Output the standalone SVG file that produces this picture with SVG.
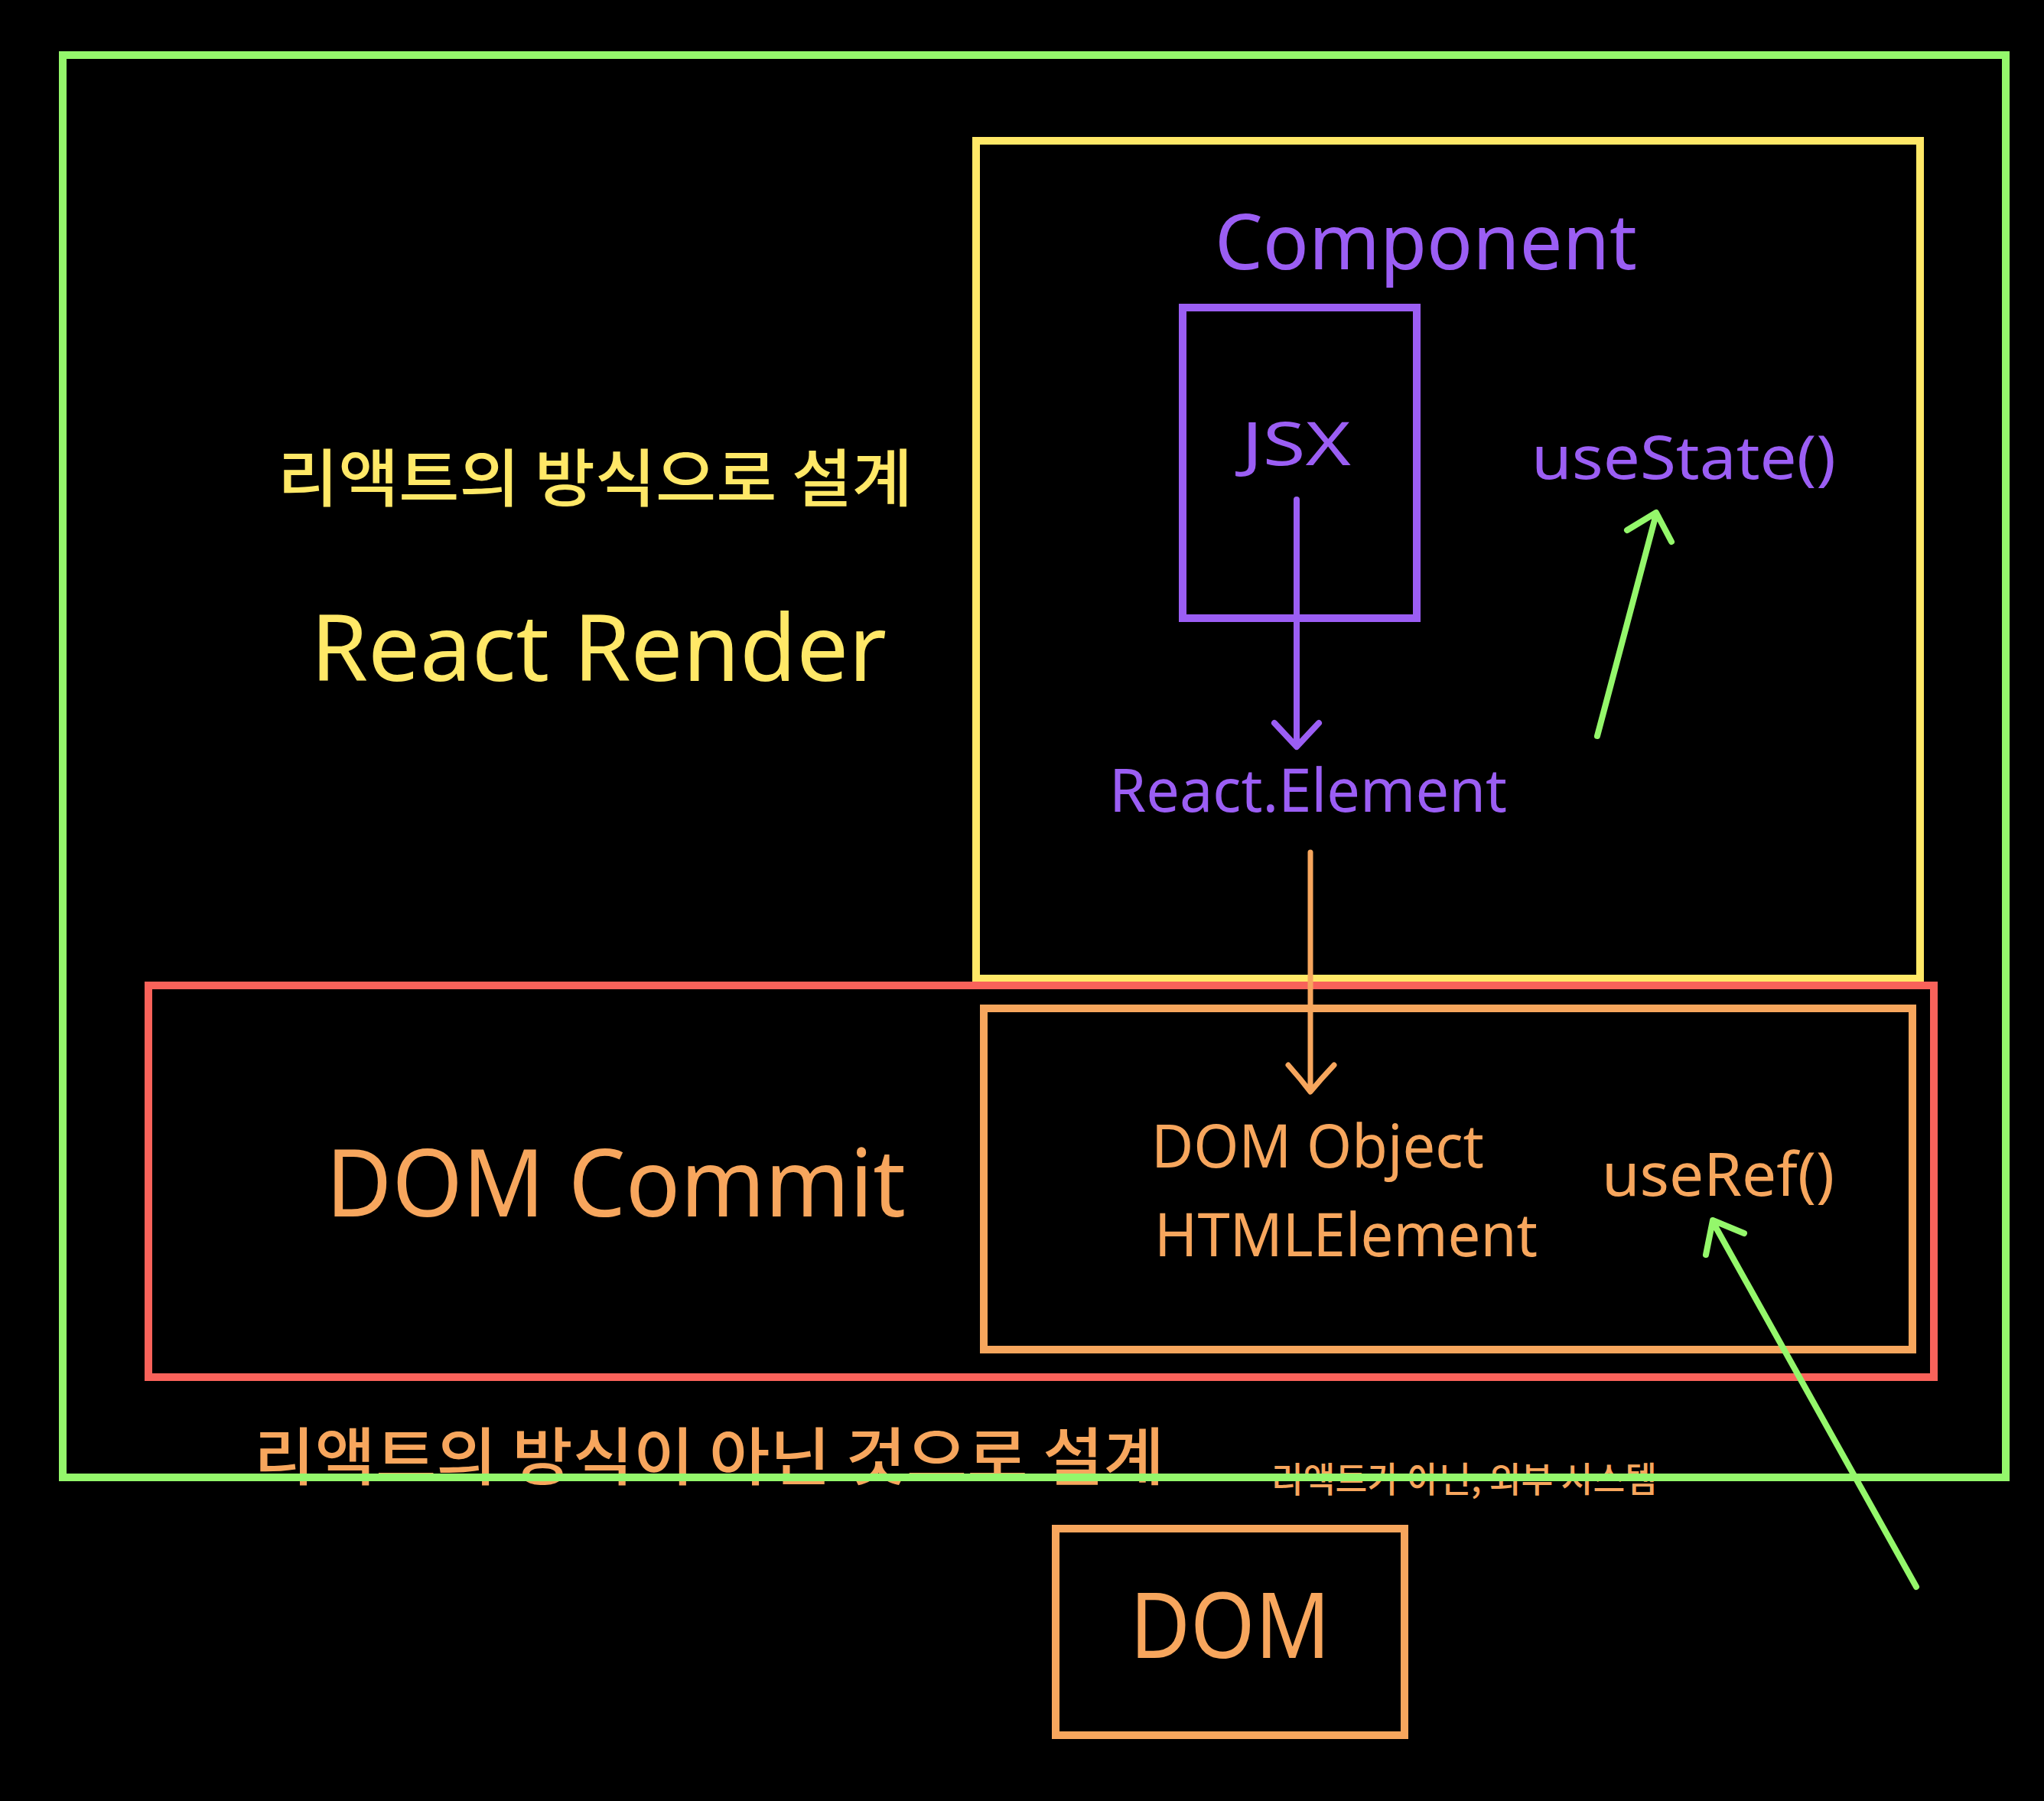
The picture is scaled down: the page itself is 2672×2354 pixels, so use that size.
<svg xmlns="http://www.w3.org/2000/svg" width="2672" height="2354" viewBox="0 0 2672 2354">
<style>
.box{fill:none;stroke-width:10}
.t{font-family:"Noto Sans","Open Sans",sans-serif}
.k{font-family:"Noto Sans CJK KR","Noto Sans",sans-serif;font-weight:500}
.ln{fill:none;stroke-linecap:round;stroke-linejoin:round}
.g{stroke:#94f76b}
.y{stroke:#ffe867}
.r{stroke:#f9625a}
.o{stroke:#f7a65d}
.p{stroke:#9b5ef4}
</style>
<rect width="2672" height="2354" fill="#000"/>
<g id="react-render">
  <rect class="box y" x="1276" y="184" width="1234" height="1095"/>
  <text class="k" x="363" y="655" font-size="82" fill="#ffe867" textLength="830" lengthAdjust="spacingAndGlyphs">리액트의 방식으로 설계</text>
  <text class="t" x="406" y="890" font-size="120" fill="#ffe867" textLength="753" lengthAdjust="spacingAndGlyphs">React Render</text>
</g>
<g id="component">
  <text class="t" x="1588" y="352" font-size="100" fill="#9b5ef4" textLength="552" lengthAdjust="spacingAndGlyphs">Component</text>
</g>
<g id="jsx">
  <rect class="box p" x="1546" y="402" width="306" height="406"/>
  <text class="t" x="1623" y="608" font-size="78" fill="#9b5ef4" textLength="143" lengthAdjust="spacingAndGlyphs">JSX</text>
</g>
<g id="usestate">
  <text class="t" x="2002" y="626" font-size="78" fill="#9b5ef4" textLength="398" lengthAdjust="spacingAndGlyphs">useState()</text>
</g>
<g id="react-element">
  <text class="t" x="1450" y="1061" font-size="78" fill="#9b5ef4" textLength="520" lengthAdjust="spacingAndGlyphs">React.Element</text>
</g>
<g id="dom-commit">
  <rect class="box r" x="194" y="1288" width="2334" height="512"/>
  <text class="t" x="426" y="1590" font-size="122" fill="#f7a65d" textLength="758" lengthAdjust="spacingAndGlyphs">DOM Commit</text>
</g>
<g id="dom-object">
  <rect class="box o" x="1286" y="1318" width="1214" height="446"/>
  <text class="t" x="1505" y="1526" font-size="78" fill="#f7a65d" textLength="435" lengthAdjust="spacingAndGlyphs">DOM Object</text>
  <text class="t" x="1509" y="1642" font-size="78" fill="#f7a65d" textLength="501" lengthAdjust="spacingAndGlyphs">HTMLElement</text>
</g>
<g id="useref">
  <text class="t" x="2094" y="1563" font-size="78" fill="#f7a65d" textLength="304" lengthAdjust="spacingAndGlyphs">useRef()</text>
</g>
<g id="not-react-label">
  <text class="k" x="332" y="1934" font-size="82" fill="#f7a65d" textLength="1190" lengthAdjust="spacingAndGlyphs">리액트의 방식이 아닌 것으로 설계</text>
  <text class="k" x="1662" y="1950" font-size="46" fill="#f7a65d" textLength="504" lengthAdjust="spacingAndGlyphs">리액트가 아닌, 외부 시스템</text>
</g>
<g id="react-frame">
  <rect class="box g" x="82" y="72" width="2540" height="1859"/>
</g>
<g id="dom">
  <rect class="box o" x="1380" y="1998" width="456" height="270"/>
  <text class="t" x="1477" y="2167" font-size="118" fill="#f7a65d" textLength="262" lengthAdjust="spacingAndGlyphs">DOM</text>
</g>
<g id="connectors">
  <path class="ln p" stroke-width="8" d="M1695 653 L1695 974 M1666 945 L1695 976 L1724 945"/>
  <path class="ln o" stroke-width="7" d="M1713 1114 L1713 1424 M1684 1392 Q1700 1410 1713 1427 Q1727 1410 1744 1392"/>
  <path class="ln g" stroke-width="8" d="M2088 962 L2165 672 M2127 693 L2165 670 L2185 708"/>
  <path class="ln g" stroke-width="8" d="M2505 2074 L2239 1597 M2230 1640 L2239 1595 L2280 1612"/>
</g>
</svg>
